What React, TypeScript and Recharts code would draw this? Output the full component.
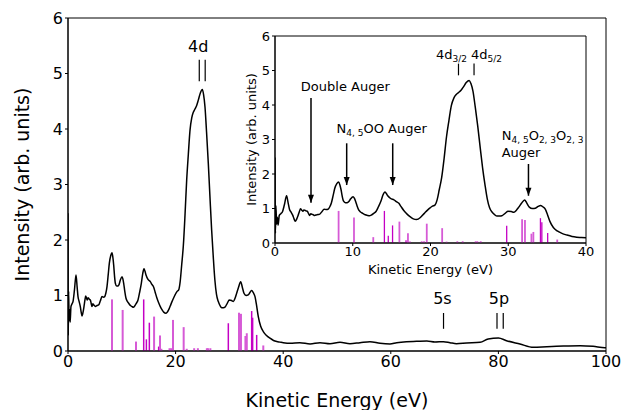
import React from 'react';
import { ComposedChart, Line, XAxis, YAxis, ReferenceLine, ReferenceDot, ReferenceArea } from 'recharts';

const FONT = '"DejaVu Sans", sans-serif';

// Measured spectrum (kinetic energy in eV, intensity in arb. units)
const energy = [
  0, 0.05, 0.12, 0.2, 0.3, 0.4, 0.55, 0.75, 0.95, 1.2, 1.49, 1.7, 1.86, 2.05, 2.29, 2.45, 2.6, 2.8, 2.97, 3.15,
  3.28, 3.45, 3.59, 3.72, 3.84, 4.0, 4.15, 4.3, 4.46, 4.62, 4.77, 4.92, 5.08, 5.4, 5.7, 6.0, 6.32, 6.6, 6.82, 7.05,
  7.25, 7.48, 7.68, 7.95, 8.18, 8.35, 8.49, 8.65, 8.8, 9.05, 9.29, 9.5, 9.73, 10.04, 10.2, 10.35, 10.55, 10.78, 11.0, 11.28,
  11.6, 11.9, 12.15, 12.39, 12.7, 13.01, 13.3, 13.63, 13.9, 14.13, 14.3, 14.5, 14.87, 15.3, 15.6, 15.93, 16.2, 16.54, 16.85, 17.16,
  17.5, 17.79, 18.2, 18.7, 19.0, 19.33, 19.65, 19.95, 20.25, 20.57, 20.85, 21.13, 21.44, 21.75, 22.06, 22.37, 22.68, 23.0, 23.29, 23.6,
  23.9, 24.22, 24.6, 24.97, 25.2, 25.46, 25.75, 26.08, 26.4, 26.7, 27.0, 27.3, 27.6, 27.94, 28.25, 28.56, 28.9, 29.18, 29.6, 29.98,
  30.4, 30.73, 31.05, 31.35, 31.7, 32.1, 32.4, 32.71, 33.1, 33.5, 33.85, 34.14, 34.45, 34.76, 35.05, 35.37, 35.8, 36.3, 36.9, 37.55,
  38.2, 38.8, 39.4, 40.0, 41.27, 43.1, 45.0, 46.84, 48.7, 50.56, 52.4, 54.27, 56.13, 58.0, 59.85, 61.1, 62.9, 64.8, 66.7, 68.2,
  69.8, 71.0, 72.2, 74.1, 76.6, 78.1, 80.0, 81.5, 84.0, 86.5, 89.0, 92.1, 95.2, 97.6, 99.8, 100,
];
const intensity = [
  2.48, 0.28, 1.08, 0.55, 0.75, 0.52, 0.8, 0.85, 0.9, 1.1, 1.37, 1.15, 0.98, 0.9, 0.8, 0.7, 0.63, 0.7, 0.8, 0.92,
  0.99, 0.95, 0.92, 0.96, 0.95, 0.93, 0.92, 0.86, 0.8, 0.85, 0.83, 0.82, 0.8, 0.82, 0.83, 0.9, 0.98, 0.97, 0.98, 1.05,
  1.16, 1.38, 1.58, 1.72, 1.77, 1.68, 1.55, 1.35, 1.22, 1.17, 1.17, 1.2, 1.28, 1.34, 1.3, 1.22, 1.08, 0.95, 0.9, 0.86,
  0.82, 0.8, 0.79, 0.81, 0.86, 0.92, 1.05, 1.22, 1.4, 1.48, 1.44, 1.37, 1.29, 1.25, 1.2, 1.15, 1.06, 0.95, 0.87, 0.8,
  0.74, 0.7, 0.68, 0.74, 0.81, 0.89, 0.96, 1.02, 1.07, 1.1, 1.25, 1.55, 1.9, 2.45, 3.08, 3.55, 3.98, 4.2, 4.3, 4.36,
  4.42, 4.52, 4.65, 4.71, 4.62, 4.4, 3.95, 3.38, 2.75, 2.18, 1.7, 1.28, 1.02, 0.89, 0.82, 0.78, 0.78, 0.79, 0.86, 0.92,
  0.91, 0.89, 0.95, 1.04, 1.15, 1.25, 1.15, 1.04, 1.0, 1.01, 1.06, 1.09, 1.05, 0.98, 0.82, 0.62, 0.45, 0.35, 0.28, 0.23,
  0.19, 0.17, 0.16, 0.15, 0.138, 0.15, 0.126, 0.15, 0.132, 0.156, 0.132, 0.15, 0.168, 0.138, 0.126, 0.15, 0.168, 0.174, 0.18, 0.162,
  0.168, 0.15, 0.132, 0.144, 0.156, 0.216, 0.234, 0.186, 0.126, 0.066, 0.078, 0.09, 0.096, 0.084, 0.06, 0.06,
];

// Calculated Auger lines (stick spectrum)
const stickEnergy = [8.18, 10.16, 12.64, 14.07, 14.57, 15.12, 16.0, 16.85, 17.1, 17.36, 18.87, 19.17, 19.52, 21.5, 22.07, 23.45, 24.14, 25.81, 26.03, 26.46, 29.8, 31.78, 32.15, 32.98, 33.23, 34.14, 34.32, 35.07, 36.3];
const stickHeight = [0.93, 0.74, 0.17, 0.93, 0.21, 0.51, 0.62, 0.08, 0.28, 0.04, 0.05, 0.05, 0.56, 0.43, 0.04, 0.05, 0.05, 0.05, 0.05, 0.05, 0.5, 0.69, 0.67, 0.27, 0.32, 0.72, 0.6, 0.29, 0.1];
const stickTone = ['l', 'l', 'l', 'd', 'd', 'd', 'l', 'd', 'l', 'l', 'l', 'l', 'l', 'l', 'l', 'l', 'l', 'l', 'l', 'l', 'd', 'l', 'l', 'l', 'l', 'd', 'd', 'd', 'l'];

const mainXTicks = [0, 20, 40, 60, 80, 100];
const insetXTicks = [0, 10, 20, 30, 40];
const yTicks = [0, 1, 2, 3, 4, 5, 6];

// Main-panel level markers: label, label position, marker energies, marker span
const mainLabels = ['4d', '5s', '5p'];
const mainLabelE = [24.2, 69.6, 80.1];
const mainLabelY = [5.39, 0.85, 0.85];
const mainMarkE = [[24.4, 25.5], [69.8], [79.74, 80.9]];
const mainMarkLo = [4.86, 0.4, 0.4];
const mainMarkHi = [5.25, 0.685, 0.685];

// Inset annotations
const insetPeakMarkE = [23.6, 25.6];
const arrowE = [4.63, 9.22, 15.14, 32.6];
const arrowTop = [4.2, 2.89, 2.89, 2.29];
const arrowTip = [1.17, 1.68, 1.68, 1.37];

const spectrum = energy.map((e, i) => ({ e, v: intensity[i] }));
const insetSpectrum = spectrum.filter((p) => p.e <= 40);
const sticks = stickEnergy.map((e, i) => ({ e, h: stickHeight[i], tone: stickTone[i] }));

const DARK = '#c400c4';
const LIGHT = '#d65ad6';

const txt = (content: any, size: number, anchor: string) => (props: any) => (
  <text x={props.cx} y={props.cy} textAnchor={anchor} fontSize={size} fill="#000" fontFamily={FONT}>
    {content}
  </text>
);

const arrowHead = (props: any) => {
  const { cx, cy } = props;
  return <path d={`M${cx},${cy} L${cx - 3},${cy - 8} L${cx + 3},${cy - 8} Z`} fill="#000" />;
};

const sub = (s: string) => (
  <tspan dy={3} fontSize={9}>{s}</tspan>
);

export default function App() {
  return (
    <div style={{ position: 'absolute', left: 0, top: 0, width: 624, height: 410, background: '#fff', fontFamily: FONT }}>
      <div style={{ position: 'absolute', left: 0, top: 0 }}>
        <ComposedChart width={624} height={410} data={spectrum} margin={{ top: 18, right: 18, bottom: 0, left: 0 }}>
          <XAxis
            dataKey="e"
            type="number"
            domain={[0, 100]}
            ticks={mainXTicks}
            interval={0}
            allowDataOverflow
            height={59}
            tickSize={3}
            tickMargin={2}
            stroke="#000"
            tick={{ fontSize: 16, fill: '#000', fontFamily: FONT }}
            label={(p: any) => {
              const vb = p.viewBox;
              return (
                <text x={vb.x + vb.width / 2} y={vb.y + vb.height - 3} textAnchor="middle" fontSize={19} fill="#000" fontFamily={FONT}>
                  Kinetic Energy (eV)
                </text>
              );
            }}
          />
          <YAxis
            type="number"
            domain={[0, 6]}
            ticks={yTicks}
            interval={0}
            allowDataOverflow
            width={68}
            tickSize={3}
            tickMargin={2}
            stroke="#000"
            tick={{ fontSize: 16, fill: '#000', fontFamily: FONT }}
            label={(p: any) => {
              const vb = p.viewBox;
              return (
                <text transform={`translate(${vb.x + 29},${vb.y + vb.height / 2}) rotate(-90)`} textAnchor="middle" fontSize={19} fill="#000" fontFamily={FONT}>
                  Intensity (arb. units)
                </text>
              );
            }}
          />
          <ReferenceArea x1={0} x2={100} y1={0} y2={6} fill="none" stroke="#000" strokeWidth={1} />
          {sticks.map((s, i) => (
            <ReferenceLine
              key={'s' + i}
              segment={[{ x: s.e, y: 0 }, { x: s.e, y: s.h }]}
              stroke={s.tone === 'd' ? DARK : LIGHT}
              strokeWidth={s.tone === 'd' ? 1.5 : 2}
            />
          ))}
          <Line type="monotone" dataKey="v" stroke="#000" strokeWidth={1.5} dot={false} isAnimationActive={false} />
          {mainLabels.map((l, i) => (
            <ReferenceDot key={'ml' + i} x={mainLabelE[i]} y={mainLabelY[i]} r={0} shape={txt(l, 16, 'middle')} />
          ))}
          {mainMarkE.map((arr, i) =>
            arr.map((e, j) => (
              <ReferenceLine key={'mm' + i + '-' + j} segment={[{ x: e, y: mainMarkLo[i] }, { x: e, y: mainMarkHi[i] }]} stroke="#000" strokeWidth={1.2} />
            ))
          )}
        </ComposedChart>
      </div>
      <div style={{ position: 'absolute', left: 220, top: 30 }}>
        <ComposedChart width={384} height={247} data={insetSpectrum} margin={{ top: 6, right: 18, bottom: 0, left: 0 }}>
          <XAxis
            dataKey="e"
            type="number"
            domain={[0, 40]}
            ticks={insetXTicks}
            interval={0}
            allowDataOverflow
            height={34}
            tickSize={3}
            tickMargin={1}
            stroke="#000"
            tick={{ fontSize: 13, fill: '#000', fontFamily: FONT }}
            label={(p: any) => {
              const vb = p.viewBox;
              return (
                <text x={vb.x + vb.width / 2} y={vb.y + 31} textAnchor="middle" fontSize={13} fill="#000" fontFamily={FONT}>
                  Kinetic Energy (eV)
                </text>
              );
            }}
          />
          <YAxis
            type="number"
            domain={[0, 6]}
            ticks={yTicks}
            interval={0}
            allowDataOverflow
            width={55}
            tickSize={3}
            tickMargin={2}
            stroke="#000"
            tick={{ fontSize: 13, fill: '#000', fontFamily: FONT }}
            label={(p: any) => {
              const vb = p.viewBox;
              return (
                <text transform={`translate(${vb.x + 36},${vb.y + vb.height / 2}) rotate(-90)`} textAnchor="middle" fontSize={13} fill="#000" fontFamily={FONT}>
                  Intensity (arb. units)
                </text>
              );
            }}
          />
          <ReferenceArea x1={0} x2={40} y1={0} y2={6} fill="none" stroke="#000" strokeWidth={1} />
          {sticks.map((s, i) => (
            <ReferenceLine
              key={'is' + i}
              segment={[{ x: s.e, y: 0 }, { x: s.e, y: s.h }]}
              stroke={s.tone === 'd' ? DARK : LIGHT}
              strokeWidth={s.tone === 'd' ? 1.3 : 1.8}
            />
          ))}
          <Line type="monotone" dataKey="v" stroke="#000" strokeWidth={1.5} dot={false} isAnimationActive={false} />
          {insetPeakMarkE.map((e, i) => (
            <ReferenceLine key={'ip' + i} segment={[{ x: e, y: 4.86 }, { x: e, y: 5.2 }]} stroke="#000" strokeWidth={1.2} />
          ))}
          <ReferenceDot x={22.7} y={5.33} r={0} shape={txt(<>4d{sub('3/2')}</>, 13, 'middle')} />
          <ReferenceDot x={27.2} y={5.33} r={0} shape={txt(<>4d{sub('5/2')}</>, 13, 'middle')} />
          {arrowE.map((e, i) => (
            <ReferenceLine key={'al' + i} segment={[{ x: e, y: arrowTip[i] }, { x: e, y: arrowTop[i] }]} stroke="#000" strokeWidth={1.5} />
          ))}
          {arrowE.map((e, i) => (
            <ReferenceDot key={'ah' + i} x={e} y={arrowTip[i]} r={0} shape={arrowHead} />
          ))}
          <ReferenceDot x={9.04} y={4.4} r={0} shape={txt('Double Auger', 13, 'middle')} />
          <ReferenceDot x={13.72} y={3.19} r={0} shape={txt(<>N{sub('4, 5')}<tspan dy={-3}>OO Auger</tspan></>, 13, 'middle')} />
          <ReferenceDot
            x={29.16}
            y={3.0}
            r={0}
            shape={txt(<>N{sub('4, 5')}<tspan dy={-3}>O</tspan>{sub('2, 3')}<tspan dy={-3}>O</tspan>{sub('2, 3')}</>, 13, 'start')}
          />
          <ReferenceDot x={29.16} y={2.49} r={0} shape={txt('Auger', 13, 'start')} />
        </ComposedChart>
      </div>
    </div>
  );
}
